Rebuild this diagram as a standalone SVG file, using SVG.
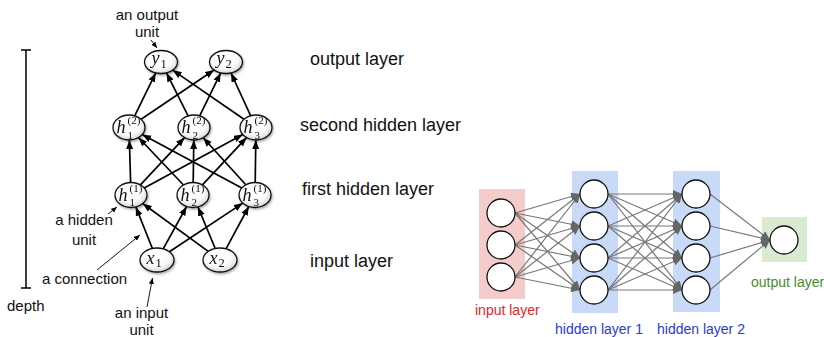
<svg xmlns="http://www.w3.org/2000/svg" width="824" height="337" viewBox="0 0 824 337">
<style>
.lbl{font-family:"Liberation Sans",Arial,sans-serif;font-size:15px;fill:#111}
.lay{font-family:"Liberation Sans",Arial,sans-serif;font-size:18px;fill:#111}
.m{font-family:"Liberation Serif","Times New Roman",serif;font-style:italic;font-size:18px;fill:#111}
.ms{font-family:"Liberation Serif","Times New Roman",serif;font-size:11px;fill:#111}
.mi{font-family:"Liberation Serif","Times New Roman",serif;font-size:12.5px;fill:#111}
.nd{fill:url(#ng);stroke:#111;stroke-width:1.3}
.e{stroke:#000;stroke-width:1.7;fill:none;marker-end:url(#ah)}
.a{stroke:#000;stroke-width:0.9;fill:none;marker-end:url(#ahs)}
.g{stroke:#777;stroke-width:1.2;fill:none;marker-end:url(#gh)}
.c{fill:#fff;stroke:#111;stroke-width:1.3}
.r{font-family:"Liberation Sans",Arial,sans-serif;font-size:14px}
</style>
<defs>
<radialGradient id="ng" cx="0.45" cy="0.4" r="0.65">
<stop offset="0" stop-color="#fff"/>
<stop offset="0.6" stop-color="#fafafa"/>
<stop offset="1" stop-color="#cfcfcf"/>
</radialGradient>
<filter id="sh" x="-30%" y="-30%" width="160%" height="160%">
<feDropShadow dx="1" dy="1.5" stdDeviation="1.2" flood-color="#000" flood-opacity="0.35"/>
</filter>
<marker id="ah" markerUnits="userSpaceOnUse" markerWidth="10" markerHeight="8" refX="9" refY="3.5" orient="auto">
<path d="M0,0 L9,3.5 L0,7 z" fill="#000"/>
</marker>
<marker id="ahs" markerUnits="userSpaceOnUse" markerWidth="8" markerHeight="6" refX="6" refY="2.5" orient="auto">
<path d="M0,0 L6,2.5 L0,5 z" fill="#000"/>
</marker>
<marker id="gh" markerUnits="userSpaceOnUse" markerWidth="10" markerHeight="8" refX="9" refY="4" orient="auto">
<path d="M0,0 L9,4 L0,8 z" fill="#666"/>
</marker>
</defs>
<rect width="824" height="337" fill="#fff"/>

<!-- depth bar -->
<g id="depth">
<line x1="26" y1="50" x2="26" y2="288" stroke="#000" stroke-width="1.5"/>
<line x1="21" y1="50" x2="31" y2="50" stroke="#000" stroke-width="1.5"/>
<line x1="21" y1="288" x2="31" y2="288" stroke="#000" stroke-width="1.5"/>
<text class="lbl" x="7" y="311">depth</text>
</g>

<!-- left connectors -->
<g id="left-edges">
<line class="e" x1="134.7" y1="115.8" x2="155.7" y2="72.9"/>
<line class="e" x1="141.1" y1="119.3" x2="214.1" y2="70.0"/>
<line class="e" x1="188.1" y1="115.9" x2="166.5" y2="72.9"/>
<line class="e" x1="199.7" y1="115.8" x2="220.7" y2="72.9"/>
<line class="e" x1="244.0" y1="119.2" x2="172.7" y2="70.1"/>
<line class="e" x1="250.6" y1="115.7" x2="231.0" y2="73.0"/>

<line class="e" x1="130.6" y1="182.5" x2="129.4" y2="140.0"/>
<line class="e" x1="140.4" y1="184.9" x2="184.6" y2="137.6"/>
<line class="e" x1="144.2" y1="187.9" x2="242.8" y2="134.6"/>
<line class="e" x1="183.5" y1="185.0" x2="138.5" y2="137.5"/>
<line class="e" x1="193.2" y1="182.5" x2="193.8" y2="140.0"/>
<line class="e" x1="202.4" y1="184.9" x2="246.6" y2="137.6"/>
<line class="e" x1="241.8" y1="187.9" x2="142.2" y2="134.6"/>
<line class="e" x1="245.8" y1="184.8" x2="203.2" y2="137.7"/>
<line class="e" x1="255.2" y1="182.5" x2="255.8" y2="140.0"/>

<line class="e" x1="152.4" y1="248.5" x2="135.8" y2="206.9"/>
<line class="e" x1="163.2" y1="248.8" x2="186.6" y2="206.5"/>
<line class="e" x1="169.4" y1="251.8" x2="242.8" y2="203.1"/>
<line class="e" x1="208.2" y1="251.4" x2="142.7" y2="203.5"/>
<line class="e" x1="215.2" y1="248.5" x2="197.9" y2="206.9"/>
<line class="e" x1="226.0" y1="248.8" x2="248.8" y2="206.5"/>

<line class="a" x1="151" y1="40" x2="157" y2="48"/>
<line class="a" x1="108" y1="214" x2="117" y2="207"/>
<line class="a" x1="97" y1="270" x2="140" y2="235"/>
<line class="a" x1="147" y1="307" x2="152.5" y2="278"/>
</g>

<!-- left nodes -->
<g id="y1" filter="url(#sh)"><ellipse class="nd" cx="161" cy="62" rx="16.5" ry="11.5"/><text class="m" x="151.5" y="64">y</text><text class="mi" x="160.5" y="68">1</text></g>
<g id="y2" filter="url(#sh)"><ellipse class="nd" cx="226" cy="62" rx="16.5" ry="11.5"/><text class="m" x="216.5" y="64">y</text><text class="mi" x="225.5" y="68">2</text></g>

<g id="h2_1" filter="url(#sh)"><ellipse class="nd" cx="129" cy="127.5" rx="16" ry="12.5"/><text class="m" x="116.5" y="133">h</text><text class="ms" x="127.5" y="124">(2)</text><text class="ms" x="127.5" y="138.5">1</text></g>
<g id="h2_2" filter="url(#sh)"><ellipse class="nd" cx="194" cy="127.5" rx="16" ry="12.5"/><text class="m" x="181.5" y="133">h</text><text class="ms" x="192.5" y="124">(2)</text><text class="ms" x="192.5" y="138.5">2</text></g>
<g id="h2_3" filter="url(#sh)"><ellipse class="nd" cx="256" cy="127.5" rx="16" ry="12.5"/><text class="m" x="243.5" y="133">h</text><text class="ms" x="254.5" y="124">(2)</text><text class="ms" x="254.5" y="138.5">3</text></g>

<g id="h1_1" filter="url(#sh)"><ellipse class="nd" cx="131" cy="195" rx="16" ry="12.5"/><text class="m" x="118.5" y="200.5">h</text><text class="ms" x="129.5" y="191.5">(1)</text><text class="ms" x="129.5" y="206">1</text></g>
<g id="h1_2" filter="url(#sh)"><ellipse class="nd" cx="193" cy="195" rx="16" ry="12.5"/><text class="m" x="180.5" y="200.5">h</text><text class="ms" x="191.5" y="191.5">(1)</text><text class="ms" x="191.5" y="206">2</text></g>
<g id="h1_3" filter="url(#sh)"><ellipse class="nd" cx="255" cy="195" rx="16" ry="12.5"/><text class="m" x="242.5" y="200.5">h</text><text class="ms" x="253.5" y="191.5">(1)</text><text class="ms" x="253.5" y="206">3</text></g>

<g id="x1" filter="url(#sh)"><ellipse class="nd" cx="157" cy="260" rx="17" ry="12"/><text class="m" x="146.5" y="264">x</text><text class="mi" x="155.5" y="267">1</text></g>
<g id="x2" filter="url(#sh)"><ellipse class="nd" cx="220" cy="260" rx="17" ry="12"/><text class="m" x="209.5" y="264">x</text><text class="mi" x="218.5" y="267">2</text></g>

<!-- left annotations -->
<g id="annotations">
<text class="lbl" x="147" y="20" text-anchor="middle">an output</text>
<text class="lbl" x="147" y="37" text-anchor="middle">unit</text>
<text class="lbl" x="84" y="225" text-anchor="middle">a hidden</text>
<text class="lbl" x="84" y="245" text-anchor="middle">unit</text>
<text class="lbl" x="42" y="284">a connection</text>
<text class="lbl" x="141.5" y="318" text-anchor="middle">an input</text>
<text class="lbl" x="141.5" y="335" text-anchor="middle">unit</text>
</g>

<g id="layer-labels">
<text class="lay" x="310" y="65">output layer</text>
<text class="lay" x="300" y="131">second hidden layer</text>
<text class="lay" x="302" y="195">first hidden layer</text>
<text class="lay" x="310" y="267">input layer</text>
</g>

<!-- right diagram -->
<g id="layer-boxes">
<rect x="479" y="189" width="46" height="110" fill="#f4cccc"/>
<rect x="572" y="171" width="46" height="142" fill="#c9daf8"/>
<rect x="673" y="171" width="47" height="141" fill="#c9daf8"/>
<rect x="762" y="217" width="45" height="45" fill="#d9ead3"/>
</g>

<g id="right-edges">
<path class="g" d="M515,213L580,194"/><path class="g" d="M515,213L580,226"/><path class="g" d="M515,213L580,258"/><path class="g" d="M515,213L580,290"/>
<path class="g" d="M515,245L580,194"/><path class="g" d="M515,245L580,226"/><path class="g" d="M515,245L580,258"/><path class="g" d="M515,245L580,290"/>
<path class="g" d="M515,277L580,194"/><path class="g" d="M515,277L580,226"/><path class="g" d="M515,277L580,258"/><path class="g" d="M515,277L580,290"/>

<path class="g" d="M608,194L682,194"/><path class="g" d="M608,194L682,226"/><path class="g" d="M608,194L682,258"/><path class="g" d="M608,194L682,290"/>
<path class="g" d="M608,226L682,194"/><path class="g" d="M608,226L682,226"/><path class="g" d="M608,226L682,258"/><path class="g" d="M608,226L682,290"/>
<path class="g" d="M608,258L682,194"/><path class="g" d="M608,258L682,226"/><path class="g" d="M608,258L682,258"/><path class="g" d="M608,258L682,290"/>
<path class="g" d="M608,290L682,194"/><path class="g" d="M608,290L682,226"/><path class="g" d="M608,290L682,258"/><path class="g" d="M608,290L682,290"/>

<path class="g" d="M710,194L770,240"/><path class="g" d="M710,226L770,240"/><path class="g" d="M710,258L770,240"/><path class="g" d="M710,290L770,240"/>
</g>

<g id="in1"><circle class="c" cx="501" cy="213" r="14"/></g>
<g id="in2"><circle class="c" cx="501" cy="245" r="14"/></g>
<g id="in3"><circle class="c" cx="501" cy="277" r="14"/></g>
<g id="ha1"><circle class="c" cx="594" cy="194" r="14"/></g>
<g id="ha2"><circle class="c" cx="594" cy="226" r="14"/></g>
<g id="ha3"><circle class="c" cx="594" cy="258" r="14"/></g>
<g id="ha4"><circle class="c" cx="594" cy="290" r="14"/></g>
<g id="hb1"><circle class="c" cx="696" cy="194" r="14"/></g>
<g id="hb2"><circle class="c" cx="696" cy="226" r="14"/></g>
<g id="hb3"><circle class="c" cx="696" cy="258" r="14"/></g>
<g id="hb4"><circle class="c" cx="696" cy="290" r="14"/></g>
<g id="out"><circle class="c" cx="784" cy="240" r="14"/></g>

<g id="right-labels">
<text class="r" x="475" y="315" fill="#e3262b">input layer</text>
<text class="r" x="555" y="334" fill="#2a3ad6">hidden layer 1</text>
<text class="r" x="657" y="334" fill="#2a3ad6">hidden layer 2</text>
<text class="r" x="751" y="287" fill="#4a8a2c">output layer</text>
</g>
</svg>
